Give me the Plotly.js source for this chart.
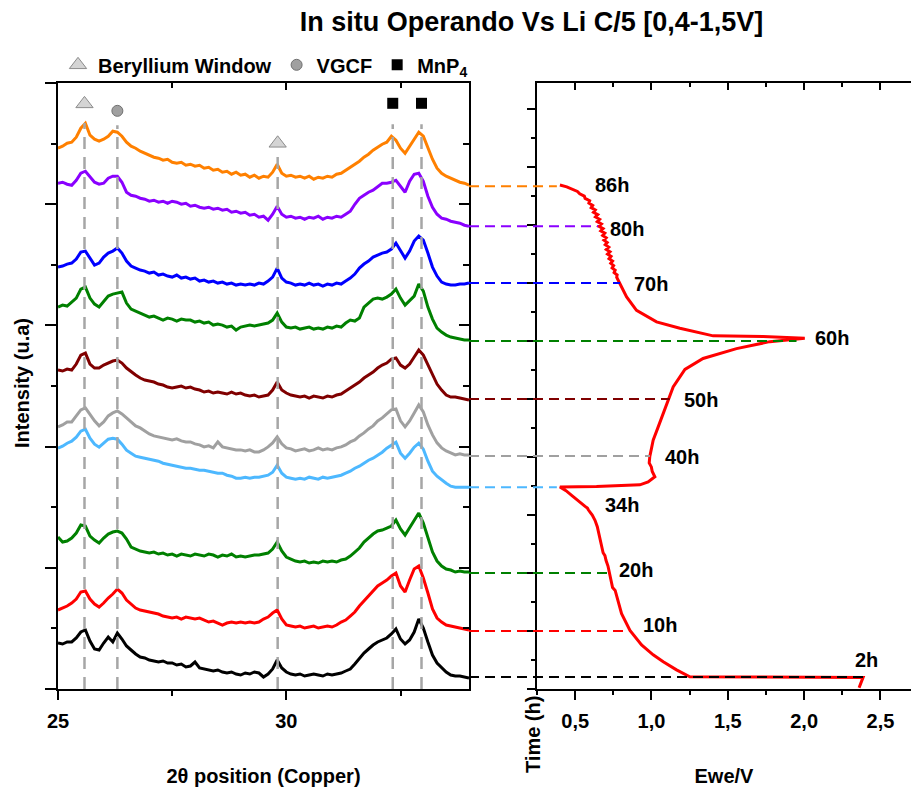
<!DOCTYPE html>
<html><head><meta charset="utf-8">
<script src="https://cdn.plot.ly/plotly-3.0.1.min.js"></script>
<style>html,body{margin:0;padding:0;background:#fff}#chart{width:913px;height:787px}</style>
</head><body><div id="chart"></div>
<script>
// ---------- DATA ----------
const theta = [25.0,25.1,25.2,25.3,25.4,25.5,25.6,25.7,25.8,25.9,
 26.0,26.1,26.2,26.3,26.4,26.5,26.6,26.7,26.8,26.9,
 27.0,27.1,27.2,27.3,27.4,27.5,27.6,27.7,27.8,27.9,
 28.0,28.1,28.2,28.3,28.4,28.5,28.6,28.7,28.8,28.9,
 29.0,29.1,29.2,29.3,29.4,29.5,29.6,29.7,29.8,29.9,
 30.0,30.1,30.2,30.3,30.4,30.5,30.6,30.7,30.8,30.9,
 31.0,31.1,31.2,31.3,31.4,31.5,31.6,31.7,31.8,31.9,
 32.0,32.1,32.2,32.3,32.4,32.5,32.6,32.7,32.8,32.9,
 33.0,33.1,33.2,33.3,33.4,33.5,33.6,33.7,33.8,33.9,34.0];

// intensities (a.u., relative to each pattern's tail)
const int2h = [34,33,35,35,39,45,47,36,28,27, 34,40,35,44,38,31,27,23,20,19, 17,16,15,16,14,14,12,13,10,11,
 15,9,8,7,6,7,5,4,5,3, 2,4,3,5,4,0,3,8,17,9, 5,3,2,3,1,2,3,2,1,3, 2,3,4,6,8,13,19,24,28,32,
 35,37,39,43,48,38,33,37,45,58, 49,35,22,14,9,5,2,1,1,0,-1];
const int10h = [21,23,25,28,32,39,40,32,27,24, 28,33,37,42,38,31,27,23,21,20, 19,18,17,15,14,13,14,12,14,13,
 12,13,11,9,10,8,6,8,9,8, 9,8,9,8,9,12,14,18,21,12, 6,5,4,5,3,4,5,3,4,5, 4,6,9,11,15,19,25,30,35,41,
 45,48,51,55,58,45,39,51,62,65, 53,38,22,13,9,6,5,4,3,2,1];
const int20h = [36,31,32,35,40,48,47,37,33,30, 35,39,41,42,40,34,26,24,22,21, 20,21,19,20,18,19,17,19,18,17,
 19,18,17,19,18,16,18,17,19,16, 17,16,17,18,18,19,20,24,31,22, 16,14,12,11,12,10,11,10,12,11, 12,11,13,14,17,21,25,31,35,39,
 42,43,45,47,53,44,38,45,52,60, 50,35,21,12,7,4,3,1,2,1,1];
const int34h = [39,41,44,46,50,56,58,49,43,40, 44,48,49,48,43,37,34,31,30,29, 28,27,26,24,23,22,21,20,19,19,
 18,17,17,16,15,14,14,12,11,9, 9,10,9,10,10,11,12,15,22,14, 10,9,8,9,8,10,9,8,10,9, 10,11,12,14,16,19,21,24,27,29,
 32,35,39,42,45,34,29,34,40,44, 38,26,16,11,7,4,1,0,0,0,0];
const int40h = [29,31,34,34,40,46,48,41,35,30, 34,40,43,45,42,38,34,30,28,25, 22,20,19,18,17,16,17,15,14,14,
 12,11,9,10,8,14,9,8,7,6, 6,5,6,4,4,6,9,13,19,12, 8,7,5,6,7,5,6,8,6,7, 6,8,9,11,14,16,20,23,27,30,
 35,38,42,46,47,35,29,35,43,51, 44,31,21,13,8,5,3,1,2,1,1];
const int50h = [29,28,30,29,35,44,46,35,31,31, 34,36,38,39,36,31,27,24,21,19, 18,17,15,14,12,11,12,13,11,12,
 10,9,7,8,6,7,6,5,7,5, 6,4,3,4,2,3,4,9,17,9, 6,4,3,2,3,1,3,2,1,3, 2,4,5,8,11,14,17,21,24,27,
 31,34,36,40,41,34,31,35,42,49, 44,34,24,15,9,4,2,2,1,0,-1];
const int60h = [34,36,35,39,43,52,54,43,37,34, 40,45,47,48,49,38,32,30,28,26, 24,25,23,21,23,22,20,22,21,21,
 19,20,18,19,16,17,16,14,15,11, 14,15,16,15,16,17,18,21,28,19, 14,13,14,12,13,14,12,13,12,14, 13,15,14,18,21,20,23,34,38,42,
 43,42,44,47,52,43,36,40,45,57, 50,34,22,13,9,6,4,3,2,1,1];
const int70h = [16,17,19,20,24,31,32,25,18,20, 26,30,32,35,30,22,17,15,13,12, 10,11,8,9,7,6,8,5,6,4,
 5,2,3,1,2,0,1,-1,0,-2, -1,-2,-1,-2,0,-1,2,6,15,5, 1,0,-2,-1,-2,0,-2,-1,-3,-1, -2,0,-1,2,5,9,15,19,22,26,
 28,30,31,34,40,33,25,32,42,47, 43,30,16,7,1,-1,-2,-2,-1,-1,0];
const int80h = [43,44,42,41,46,53,55,49,44,42, 43,48,50,50,44,34,31,30,28,27, 25,26,24,25,23,25,24,22,23,20,
 21,19,18,19,17,18,16,17,14,15, 13,14,11,12,9,10,6,12,20,12, 9,10,8,9,7,9,8,10,7,9, 8,10,9,12,15,22,28,31,34,36,
 40,43,43,44,46,40,34,45,52,53, 45,30,19,12,8,7,5,4,3,1,0];
const int86h = [38,40,43,44,49,58,63,51,47,45, 47,50,55,54,50,44,40,38,35,33, 31,29,28,26,27,24,23,24,21,22,
 20,21,18,19,16,17,14,15,12,14, 11,12,9,11,8,10,9,14,22,13, 10,11,9,10,8,10,7,9,8,10, 9,12,13,16,19,22,25,29,32,36,
 39,42,44,50,46,38,33,40,47,54, 50,38,27,18,13,10,8,6,4,3,1];

const patternIntensities = [int2h,int10h,int20h,int34h,int40h,int50h,int60h,int70h,int80h,int86h];
const patternLabels = ['2h','10h','20h','34h','40h','50h','60h','70h','80h','86h'];
const patternTimes  = [2.07,10.0,20.0,34.8,40.2,50.0,60.0,70.0,79.8,86.7];   // h
const dashEndV      = [2.386,0.859,0.71,0.38,0.99,1.12,1.95,0.794,0.65,0.38]; // Ewe at that time
const countsPerHour = 5.8;  // intensity units per hour of stacking offset

// electrochemistry: Ewe vs time
const echemTime = [0.2,2.0,2.1,3.3,4.7,5.9,7.6,10.1,13.0,15.9,17.0,17.5,18.2,19.0,20.2,21.2,22.2,23.0,23.5,24.8,
 25.5,26.8,28.0,29.1,29.6,30.0,30.9,31.2,31.5,32.3,33.4,34.2,34.7,34.85,34.9,35.2,35.7,36.6,37.5,38.3,
 39.0,40.1,41.5,42.9,45.2,47.0,49.3,52.1,55.1,57.0,58.7,59.9,60.5,60.8,60.9,62.2,63.3,65.3,67.6,69.9,
 71.0,71.4,71.8,72.2,72.6,73.0,73.4,73.8,74.2,74.6,75.0,75.4,75.8,76.2,76.6,77.0,77.4,77.8,78.2,78.6,
 79.0,79.4,79.8,80.2,80.6,81.0,81.4,81.8,82.2,82.6,83.0,83.4,83.8,84.2,84.6,85.0,85.4,85.8,86.2,86.6,86.9];
const echemV = [2.36,2.386,1.251,1.164,1.077,1.011,0.935,0.859,0.804,0.772,0.762,0.745,0.739,0.735,0.723,0.715,0.702,0.695,0.683,0.673,
 0.668,0.658,0.645,0.630,0.62,0.612,0.586,0.58,0.565,0.531,0.477,0.44,0.412,0.40,0.64,0.924,0.978,1.022,1.005,0.999,
 0.985,0.989,1.0,1.011,1.044,1.07,1.099,1.142,1.219,1.338,1.557,1.775,2.004,1.731,1.404,1.186,1.033,0.902,0.837,0.793,
 0.772,0.775,0.755,0.762,0.742,0.752,0.733,0.745,0.722,0.735,0.712,0.728,0.704,0.72,0.697,0.71,0.688,0.703,0.68,0.694,
 0.668,0.683,0.655,0.672,0.645,0.66,0.633,0.648,0.62,0.632,0.605,0.615,0.59,0.595,0.565,0.56,0.53,0.515,0.48,0.445,0.40];

// reference peaks
const berylliumTheta = [25.58, 29.81];
const berylliumMarkY = [100.9, 94.1];
const berylliumGuideTop = [97.6, 92.0];
const vgcfTheta = [26.30];
const vgcfMarkY = [99.7];
const vgcfGuideTop = [97.2];
const mnp4Theta = [32.33, 32.96];
const mnp4MarkY = [101.0, 101.0];
const mnp4GuideTop = [97.4, 97.4];

// ---------- STYLE ----------
const patternColors = ['#000000','#ff0000','#008000','#4db8ff','#a0a0a0','#800000','#008000','#0000ff','#8a00ff','#ff8000'];
const FONT = 'Liberation Sans, Arial, sans-serif';
const W = 913, H = 787;
const M = {l:58, r:2, t:83, b:98};
const plotW = W - M.l - M.r, plotH = H - M.t - M.b;
const domL = [0, (469 - M.l) / plotW];
const domR = [(537 - M.l) / plotW, 1];
const xRangeL = [25, 34], xRangeR = [0.25, 2.7], yRange = [0, 104.5];

const traces = [];
patternIntensities.forEach((arr, i) => {
  traces.push({
    type:'scatter', mode:'lines', x: theta,
    y: arr.map(v => patternTimes[i] + v / countsPerHour),
    line:{color: patternColors[i], width:3}, showlegend:false, hoverinfo:'skip',
    xaxis:'x', yaxis:'y', name: patternLabels[i]
  });
});
traces.push({type:'scatter', mode:'lines', x: echemV, y: echemTime, xaxis:'x2', yaxis:'y2',
  line:{color:'#ff0000', width:3}, showlegend:false, hoverinfo:'skip'});
// reference peak markers (also form the legend)
traces.push({type:'scatter', mode:'markers', x: berylliumTheta, y: berylliumMarkY, name:'Beryllium Window',
  marker:{symbol:'triangle-up', size:15, color:'#d4d4d4', line:{color:'#8c8c8c', width:1}}, xaxis:'x', yaxis:'y', hoverinfo:'skip'});
traces.push({type:'scatter', mode:'markers', x: vgcfTheta, y: vgcfMarkY, name:'VGCF',
  marker:{symbol:'circle', size:11, color:'#a0a0a0', line:{color:'#707070', width:1}}, xaxis:'x', yaxis:'y', hoverinfo:'skip'});
traces.push({type:'scatter', mode:'markers', x: mnp4Theta, y: mnp4MarkY, name:'MnP<sub>4</sub>',
  marker:{symbol:'square', size:11, color:'#000000'}, xaxis:'x', yaxis:'y', hoverinfo:'skip'});
// empty traces to host the mirrored (inward-tick) frame axes
traces.push({type:'scatter', x:[], y:[], xaxis:'x3', yaxis:'y', showlegend:false, hoverinfo:'skip'});
traces.push({type:'scatter', x:[], y:[], xaxis:'x', yaxis:'y3', showlegend:false, hoverinfo:'skip'});
traces.push({type:'scatter', x:[], y:[], xaxis:'x4', yaxis:'y2', showlegend:false, hoverinfo:'skip'});

const shapes = [];
function guides(thetas, tops) {
  thetas.forEach((t, k) => shapes.push({type:'line', xref:'x', yref:'y', x0:t, x1:t, y0:yRange[0], y1:tops[k],
    line:{color:'#a6a6a6', width:2.5, dash:'12px,8px'}, layer:'above'}));
}
guides(berylliumTheta, berylliumGuideTop);
guides(vgcfTheta, vgcfGuideTop);
guides(mnp4Theta, mnp4GuideTop);
patternTimes.forEach((t, i) => {
  const xEnd = domR[0] + (dashEndV[i] - xRangeR[0]) / (xRangeR[1] - xRangeR[0]) * (domR[1] - domR[0]);
  shapes.push({type:'line', xref:'paper', yref:'y2', x0: domL[1], x1: xEnd, y0: t, y1: t,
    line:{color: patternColors[i], width:2, dash:'10px,6px'}, layer:'above'});
});

const labelPos = [[2.318,5.0],[0.931,11.0],[0.776,20.5],[0.680,31.7],[1.077,40.05],[1.198,49.8],[2.06,60.5],[0.870,69.9],[0.717,79.4],[0.619,86.9]];
const annotations = patternLabels.map((lab, i) => ({
  text: lab, xref:'x2', yref:'y2', x: labelPos[i][0], y: labelPos[i][1], xanchor:'left', yanchor:'middle',
  showarrow:false, font:{family:FONT, size:20, weight:'bold', color:'#000'}
}));
annotations.push({text:'Intensity (u.a)', xref:'paper', yref:'paper', x:(22 - M.l)/plotW, y:(689-383)/plotH,
  textangle:-90, showarrow:false, xanchor:'center', yanchor:'middle', font:{family:FONT, size:20, weight:'bold', color:'#000'}});
annotations.push({text:'Time (h)', xref:'paper', yref:'paper', x:(533 - M.l)/plotW, y:(689-735)/plotH,
  textangle:-90, showarrow:false, xanchor:'center', yanchor:'middle', font:{family:FONT, size:20, weight:'bold', color:'#000'}});

const tickFont = {family:FONT, size:20, weight:'bold', color:'#000'};
const baseAx = {showgrid:false, zeroline:false, showline:true, linecolor:'#000', linewidth:2, tickcolor:'#000', tickwidth:2, fixedrange:true};

const layout = {
  width:W, height:H, autosize:false, margin:{l:M.l, r:M.r, t:M.t, b:M.b, pad:0},
  paper_bgcolor:'#fff', plot_bgcolor:'rgba(0,0,0,0)', separators:',.',
  font:{family:FONT, color:'#000'},
  title:{text:'In situ Operando Vs Li C/5 [0,4-1,5V]', x:531.5/W, xref:'container', xanchor:'center',
    y:1-22/H, yref:'container', yanchor:'middle', font:{family:FONT, size:27, weight:'bold', color:'#000'}},
  showlegend:true,
  legend:{orientation:'h', x:0, xanchor:'left', y:1.03, yanchor:'middle', bgcolor:'rgba(0,0,0,0)',
    font:{family:FONT, size:20, weight:'bold', color:'#000'}, itemclick:false, itemdoubleclick:false},
  xaxis: Object.assign({}, baseAx, {domain:domL, range:xRangeL, anchor:'y', ticks:'outside', ticklen:9,
    tick0:25, dtick:5, tickfont:tickFont, ticklabelstandoff:4,
    minor:{dtick:2.5, tick0:25, ticks:'outside', ticklen:5, tickwidth:2, tickcolor:'#000', showgrid:false},
    title:{text:'2θ position (Copper)', font:{family:FONT, size:20, weight:'bold', color:'#000'}, standoff:40}}),
  xaxis3: Object.assign({}, baseAx, {overlaying:'x', matches:'x', side:'top', anchor:'y', range:xRangeL, ticks:'inside', ticklen:7,
    tick0:25, dtick:5, showticklabels:false,
    minor:{dtick:2.5, tick0:25, ticks:'inside', ticklen:5, tickwidth:2, tickcolor:'#000', showgrid:false}}),
  yaxis: Object.assign({}, baseAx, {domain:[0,1], range:yRange, anchor:'x', ticks:'outside', ticklen:11,
    tick0:0, dtick:20.9, showticklabels:false,
    minor:{dtick:10.45, tick0:0, ticks:'outside', ticklen:5, tickwidth:2, tickcolor:'#000', showgrid:false}}),
  yaxis3: Object.assign({}, baseAx, {overlaying:'y', matches:'y', side:'right', anchor:'x', range:yRange, ticks:'inside', ticklen:10,
    tick0:0, dtick:20.9, showticklabels:false,
    minor:{dtick:10.45, tick0:0, ticks:'inside', ticklen:6, tickwidth:2, tickcolor:'#000', showgrid:false}}),
  xaxis2: Object.assign({}, baseAx, {domain:domR, range:xRangeR, anchor:'y2', ticks:'outside', ticklen:9,
    tick0:0.5, dtick:0.5, tickformat:'.1f', tickfont:tickFont, ticklabelstandoff:4,
    minor:{dtick:0.25, tick0:0.25, ticks:'outside', ticklen:4, tickwidth:2, tickcolor:'#000', showgrid:false},
    title:{text:'Ewe/V', font:{family:FONT, size:20, weight:'bold', color:'#000'}, standoff:40}}),
  xaxis4: Object.assign({}, baseAx, {overlaying:'x2', matches:'x2', side:'top', anchor:'y2', range:xRangeR, ticks:'inside', ticklen:7,
    tick0:0.5, dtick:0.5, showticklabels:false,
    minor:{dtick:0.25, tick0:0.25, ticks:'inside', ticklen:4, tickwidth:2, tickcolor:'#000', showgrid:false}}),
  yaxis2: Object.assign({}, baseAx, {domain:[0,1], range:yRange, anchor:'x2', ticks:'outside', ticklen:8,
    tick0:0, dtick:10, showticklabels:false,
    minor:{dtick:5, tick0:0, ticks:'outside', ticklen:4, tickwidth:2, tickcolor:'#000', showgrid:false}}),
  shapes: shapes,
  annotations: annotations
};

Plotly.newPlot('chart', traces, layout, {staticPlot:true, displayModeBar:false});
</script>
</body></html>
